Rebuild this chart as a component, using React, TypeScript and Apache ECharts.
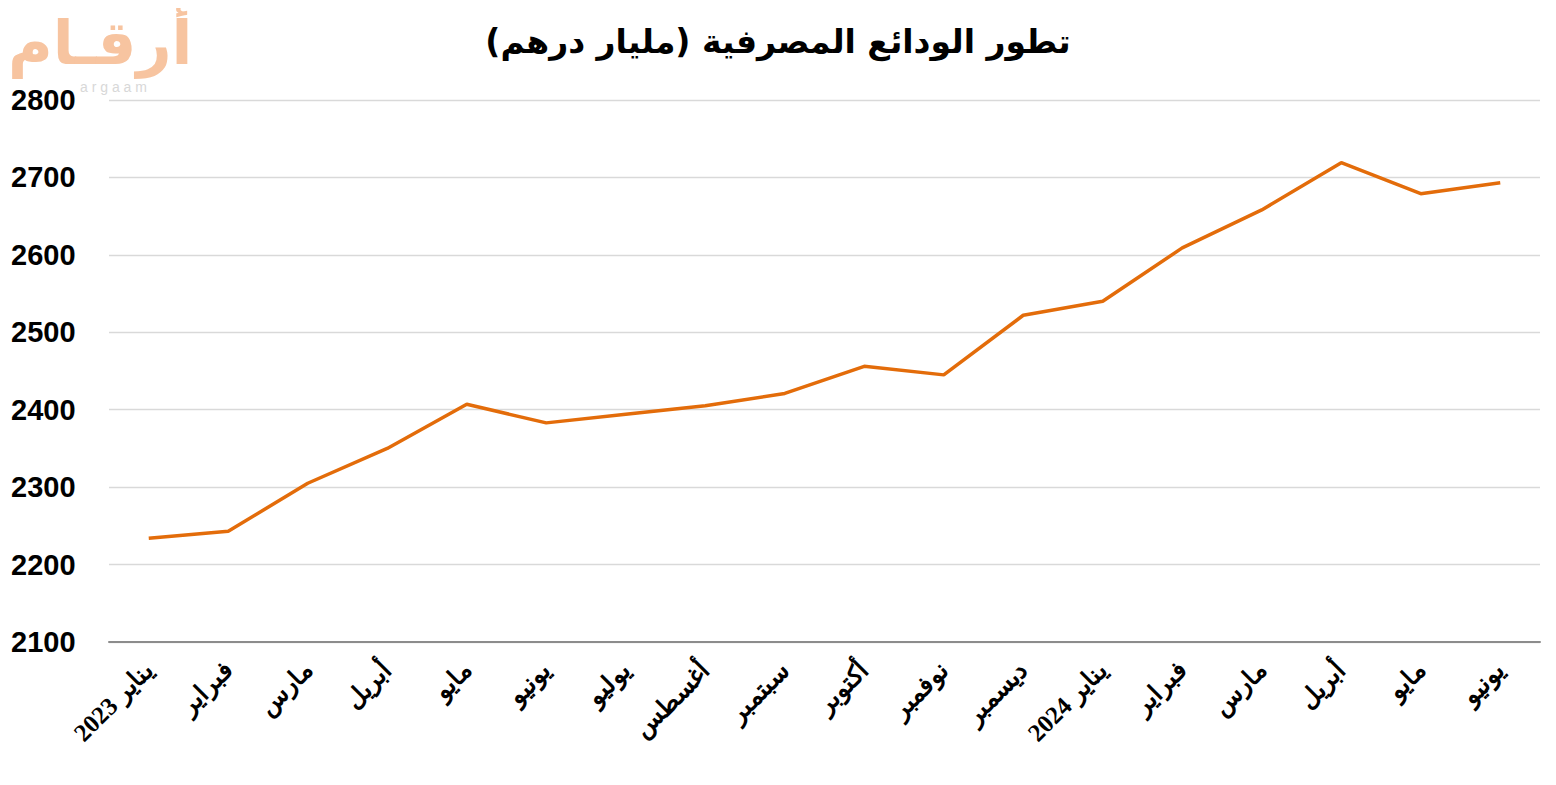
import React, { useEffect, useRef } from "react";
import * as echarts from "echarts";

const months = [
  "يناير 2023", "فبراير", "مارس", "أبريل", "مايو", "يونيو", "يوليو", "أغسطس", "سبتمبر",
  "أكتوبر", "نوفمبر", "ديسمبر", "يناير 2024", "فبراير", "مارس", "أبريل", "مايو", "يونيو",
];
const deposits = [2234, 2243, 2305, 2350, 2407, 2383, 2394, 2405, 2421, 2456, 2445, 2522, 2540, 2609, 2658, 2719, 2679, 2693];
const titleText = "تطور الودائع المصرفية (مليار درهم)";
const logoText = "أرقـام";
const logoSub = "a r g a a m";

export default function App() {
  const ref = useRef<HTMLDivElement>(null);
  useEffect(() => {
    if (!ref.current) return;
    const chart = echarts.init(ref.current, null, { renderer: "svg" });
    chart.setOption({
      animation: false,
      backgroundColor: "#ffffff",
      title: {
        text: "\u202B" + titleText + "\u202C",
        left: "center",
        top: 12,
        textStyle: { fontSize: 33, fontWeight: "bold", color: "#000", fontFamily: "DejaVu Sans, Arial, sans-serif" },
      },
      graphic: [
        {
          type: "text",
          left: 0,
          top: 4,
          style: { text: "\u202B" + logoText + "\u202C", fontSize: 61, lineHeight: 56, fontWeight: "bold", fill: "#f7c4a0", fontFamily: "DejaVu Sans, sans-serif" },
        },
        {
          type: "text",
          left: 72,
          top: 72,
          style: { text: logoSub, fontSize: 14, lineHeight: 14, fill: "#d8d8d8", fontFamily: "Liberation Sans, sans-serif" },
        },
      ],
      grid: { left: 100, right: 8, top: 92, bottom: 135, containLabel: false },
      xAxis: {
        type: "category",
        data: months,
        boundaryGap: true,
        axisLine: { lineStyle: { color: "#8c8c8c", width: 2 } },
        axisTick: { show: false },
        axisLabel: {
          rotate: 45,
          interval: 0,
          margin: 24,
          fontSize: 25,
          fontWeight: "bold",
          color: "#000",
          fontFamily: "Liberation Serif, DejaVu Serif, serif",
        },
      },
      yAxis: {
        type: "value",
        min: 2100,
        max: 2800,
        interval: 100,
        axisLine: { show: false },
        axisTick: { show: false },
        splitLine: { lineStyle: { color: "#d9d9d9", width: 1.3 } },
        axisLabel: {
          align: "left",
          margin: 98,
          fontSize: 29,
          fontWeight: "bold",
          color: "#000",
          fontFamily: "Liberation Sans, Arial, sans-serif",
          formatter: (v: number) => String(v),
        },
      },
      series: [
        {
          type: "line",
          data: deposits,
          symbol: "none",
          lineStyle: { color: "#e36c0a", width: 3.5 },
          itemStyle: { color: "#e36c0a" },
        },
      ],
    });
    return () => chart.dispose();
  }, []);
  return <div ref={ref} style={{ width: 1540, height: 769 }} />;
}
